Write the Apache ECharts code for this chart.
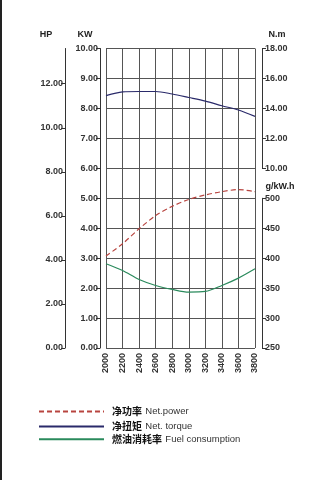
<!DOCTYPE html>
<html><head><meta charset="utf-8">
<script src="https://cdn.jsdelivr.net/npm/echarts@6/dist/echarts.min.js"></script>
<style>html,body{margin:0;padding:0;background:#fff}#c{width:330px;height:480px}</style>
</head><body><div id="c"></div>
<script>
const rpm = [2000, 2200, 2400, 2600, 2800, 3000, 3200, 3400, 3600, 3800];
const netPower = [3.07, 3.48, 3.98, 4.42, 4.73, 4.96, 5.11, 5.22, 5.29, 5.22];      // kW
const netTorque = [14.85, 15.10, 15.13, 15.13, 14.96, 14.73, 14.49, 14.18, 13.89, 13.47]; // N.m
const fuelRate = [390.6, 379.4, 364.4, 354.4, 347.8, 343.3, 344.4, 354.4, 366.7, 382.2]; // g/kW.h
const kwTicks = [0, 1, 2, 3, 4, 5, 6, 7, 8, 9, 10];
const hpTicks = [0, 2, 4, 6, 8, 10, 12];
const nmTicks = [10, 12, 14, 16, 18];
const fuelTicks = [250, 300, 350, 400, 450, 500];
const legendNames = ['净功率 Net.power', '净扭矩 Net. torque', '燃油消耗率 Fuel consumption'];

const pair = arr => rpm.map((r, i) => [r, arr[i]]);
const FONT = '"Liberation Sans", Arial, sans-serif';
const lblStyle = { fontFamily: FONT, fontSize: 9, color: '#333', fontWeight: 'bold' };
const axisLineStyle = { show: true, lineStyle: { color: '#333', width: 1 } };
const tickStyle = { show: true, length: 4, lineStyle: { color: '#333', width: 1 } };

const gridL = 106, gridR = 330 - 255, gridTop = 48.5, gridBot = 480 - 348;
const unit = (348 - 48.5) / 10;

function xAx(gi, show) {
  return {
    type: 'value', gridIndex: gi, min: rpm[0], max: rpm[rpm.length - 1], interval: 200,
    show: show,
    axisLine: { show: false }, axisTick: { show: false },
    axisLabel: { show: show, rotate: 90, margin: 5, formatter: v => String(v), ...lblStyle },
    splitLine: { show: show, lineStyle: { color: '#555', width: 1 } }
  };
}

const opt = {
  animation: false,
  backgroundColor: '#fff',
  grid: [
    { left: gridL, right: gridR, top: gridTop, bottom: gridBot },
    { left: gridL, right: gridR, top: gridTop, height: unit * 4 },
    { left: gridL, right: gridR, top: gridTop + unit * 5, bottom: gridBot }
  ],
  xAxis: [xAx(0, true), xAx(1, false), xAx(2, false)],
  yAxis: [
    { type: 'value', gridIndex: 0, position: 'left', offset: 6, min: 0, max: 10, interval: 1,
      axisLine: axisLineStyle, axisTick: tickStyle,
      axisLabel: { formatter: v => v.toFixed(2), margin: 2, ...lblStyle },
      splitLine: { show: true, lineStyle: { color: '#555', width: 1 } } },
    { type: 'value', gridIndex: 0, position: 'left', offset: 41, min: 0, max: 13.6,
      axisLine: axisLineStyle, axisTick: { ...tickStyle, customValues: hpTicks },
      axisLabel: { customValues: hpTicks, formatter: v => v.toFixed(2), margin: 2, ...lblStyle },
      splitLine: { show: false } },
    { type: 'value', gridIndex: 1, position: 'right', offset: 7, min: nmTicks[0], max: nmTicks[nmTicks.length - 1], interval: 2,
      axisLine: axisLineStyle, axisTick: tickStyle,
      axisLabel: { formatter: v => v.toFixed(2), margin: 3, ...lblStyle },
      splitLine: { show: false } },
    { type: 'value', gridIndex: 2, position: 'right', offset: 7, min: fuelTicks[0], max: fuelTicks[fuelTicks.length - 1], interval: 50,
      axisLine: axisLineStyle, axisTick: tickStyle,
      axisLabel: { formatter: v => String(v), margin: 3, ...lblStyle },
      splitLine: { show: false } }
  ],
  legend: legendNames.map((n, i) => ({
    data: [n], orient: 'vertical', left: 38, top: [405.5, 420.5, 433.3][i], padding: 0,
    itemWidth: 65, itemHeight: 10, itemGap: 0,
    itemStyle: { opacity: 0 },
    formatter: name => { const k = name.indexOf(' '); return '{cn|' + name.slice(0, k) + '} {en|' + name.slice(k + 1) + '}'; },
    textStyle: { padding: [0, 0, 0, 3], rich: {
      cn: { fontFamily: '"Noto Sans CJK SC", sans-serif', fontWeight: 'bold', fontSize: 10, color: '#111' },
      en: { fontFamily: FONT, fontSize: 9.5, color: '#333' } } }
  })),
  graphic: [
    { type: 'line', shape: { x1: 1, y1: 0, x2: 1, y2: 480 }, style: { stroke: '#222', lineWidth: 2 } },
    { type: 'text', x: 46, y: 35, style: { text: 'HP', font: 'bold 9px ' + FONT, fill: '#222', align: 'center', verticalAlign: 'middle' } },
    { type: 'text', x: 85, y: 35, style: { text: 'KW', font: 'bold 9px ' + FONT, fill: '#222', align: 'center', verticalAlign: 'middle' } },
    { type: 'text', x: 277, y: 35, style: { text: 'N.m', font: 'bold 9px ' + FONT, fill: '#222', align: 'center', verticalAlign: 'middle' } },
    { type: 'text', x: 280, y: 187, style: { text: 'g/kW.h', font: 'bold 9px ' + FONT, fill: '#222', align: 'center', verticalAlign: 'middle' } }
  ],
  series: [
    { name: legendNames[0], type: 'line', xAxisIndex: 0, yAxisIndex: 0, data: pair(netPower), smooth: 0.3, symbol: 'none',
      lineStyle: { color: '#b8443f', width: 1.2, type: [5, 3] }, itemStyle: { color: '#b8443f' } },
    { name: legendNames[1], type: 'line', xAxisIndex: 1, yAxisIndex: 2, data: pair(netTorque), smooth: 0.3, symbol: 'none',
      lineStyle: { color: '#2a2a6a', width: 1.2 }, itemStyle: { color: '#2a2a6a' } },
    { name: legendNames[2], type: 'line', xAxisIndex: 2, yAxisIndex: 3, data: pair(fuelRate), smooth: 0.3, symbol: 'none',
      lineStyle: { color: '#2a8a5c', width: 1.2 }, itemStyle: { color: '#2a8a5c' } }
  ]
};
const chart = echarts.init(document.getElementById('c'), null, { renderer: 'canvas' });
chart.setOption(opt);
</script>
</body></html>
